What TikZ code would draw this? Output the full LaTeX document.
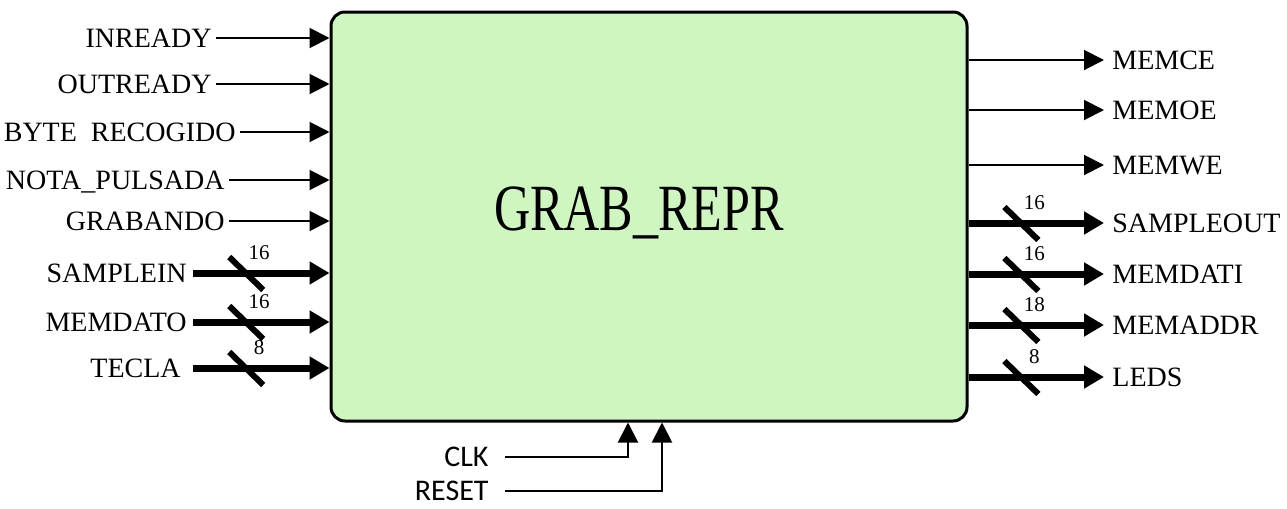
\documentclass[tikz,border=0pt]{standalone}
\usepackage{fontspec}
\setmainfont{Liberation Serif}
\newfontfamily\clkfont{Carlito}
\usetikzlibrary{arrows.meta,positioning}
\definecolor{blkgreen}{RGB}{207,246,193}

\begin{document}
\begin{tikzpicture}[x=0.5pt, y=-0.5pt, >={Triangle[length=10pt,width=10pt]}]
	\tikzset{
		lbl/.style={font=\fontsize{14}{16}\selectfont, text height=9.3pt, text depth=0pt, inner ysep=0pt, inner xsep=2pt},
		sig/.style={->, line width=1pt},
		bus/.style={-{Triangle[length=10pt,width=11pt]}, line width=3.5pt},
		pics/buswidth/.style={code={
			\draw[-, line width=3pt] (-17,-16) -- (17,17);
			\node[font=\fontsize{10.5}{12}\selectfont, inner sep=0pt] at (13,-20) {#1};
		}}
	}
	\useasboundingbox (0,0) rectangle (1287,509);

	%BLOQUE
	\node[draw, line width=1.5pt, rounded corners=7pt, fill=blkgreen, minimum width=318pt, minimum height=204.5pt, inner sep=0pt] (blk) at (649,216.5) {};
	\node[font=\fontsize{33}{36}\selectfont, anchor=base] (nombre) at (639,230) {\scalebox{0.76}[1]{GRAB\_REPR}};

	%ENTRADAS
	\node[lbl, anchor=east] (inready)  at (216,38)  {INREADY};
	\node[lbl, anchor=east] (outready) at (216,84)  {OUTREADY};
	\node[lbl, anchor=east] (byterec)  at (240,132) {BYTE\enspace RECOGIDO};
	\node[lbl, anchor=east] (notapuls) at (229,180) {NOTA\_PULSADA};
	\node[lbl, anchor=east] (grabando) at (229,221) {GRABANDO};
	\node[lbl, anchor=east, inner xsep=3pt] (samplein) at (193,273) {SAMPLEIN};
	\node[lbl, anchor=east, inner xsep=3pt] (memdato)  at (193,322) {MEMDATO};
	\node[lbl, anchor=east, inner xsep=6pt] (tecla)    at (193,368) {TECLA};

	%SALIDAS
	\node[lbl, anchor=west, inner xsep=4pt] (memce)     at (1104,60)  {MEMCE};
	\node[lbl, anchor=west, inner xsep=4pt] (memoe)     at (1104,110) {MEMOE};
	\node[lbl, anchor=west, inner xsep=4pt] (memwe)     at (1104,165) {MEMWE};
	\node[lbl, anchor=west, inner xsep=4pt] (sampleout) at (1104,223) {SAMPLEOUT};
	\node[lbl, anchor=west, inner xsep=4pt] (memdati)   at (1104,274) {MEMDATI};
	\node[lbl, anchor=west, inner xsep=4pt] (memaddr)   at (1104,325) {MEMADDR};
	\node[lbl, anchor=west, inner xsep=4pt] (leds)      at (1104,377) {LEDS};

	%RELOJ Y RESET
	\node[font=\clkfont\fontsize{15}{17}\selectfont, text height=9.7pt, text depth=0pt, inner ysep=0pt, inner xsep=8pt, anchor=east] (clk)   at (505,457) {CLK};
	\node[font=\clkfont\fontsize{15}{17}\selectfont, text height=9.7pt, text depth=0pt, inner ysep=0pt, inner xsep=8pt, anchor=east] (reset) at (505,491) {RESET};

	%CONEXIONES
	\draw[sig] (inready.east)  -- (inready -| blk.west);
	\draw[sig] (outready.east) -- (outready -| blk.west);
	\draw[sig] (byterec.east)  -- (byterec -| blk.west);
	\draw[sig] (notapuls.east) -- (notapuls -| blk.west);
	\draw[sig] (grabando.east) -- (grabando -| blk.west);
	\draw[bus] (samplein.east) -- pic[pos=0.39]{buswidth=16} (samplein -| blk.west);
	\draw[bus] (memdato.east)  -- pic[pos=0.39]{buswidth=16} (memdato -| blk.west);
	\draw[bus] (tecla.east)    -- pic[pos=0.39]{buswidth=8}  (tecla -| blk.west);

	\draw[sig] (memce -| blk.east) -- (memce.west);
	\draw[sig] (memoe -| blk.east) -- (memoe.west);
	\draw[sig] (memwe -| blk.east) -- (memwe.west);
	\draw[bus] (sampleout -| blk.east) -- pic[pos=0.39]{buswidth=16} (sampleout.west);
	\draw[bus] (memdati -| blk.east)   -- pic[pos=0.39]{buswidth=16} (memdati.west);
	\draw[bus] (memaddr -| blk.east)   -- pic[pos=0.39]{buswidth=18} (memaddr.west);
	\draw[bus] (leds -| blk.east)      -- pic[pos=0.39]{buswidth=8}  (leds.west);

	\draw[sig] (clk.east)   -| ([xshift=-10.5pt]blk.south);
	\draw[sig] (reset.east) -| ([xshift=6.5pt]blk.south);
\end{tikzpicture}
\end{document}
